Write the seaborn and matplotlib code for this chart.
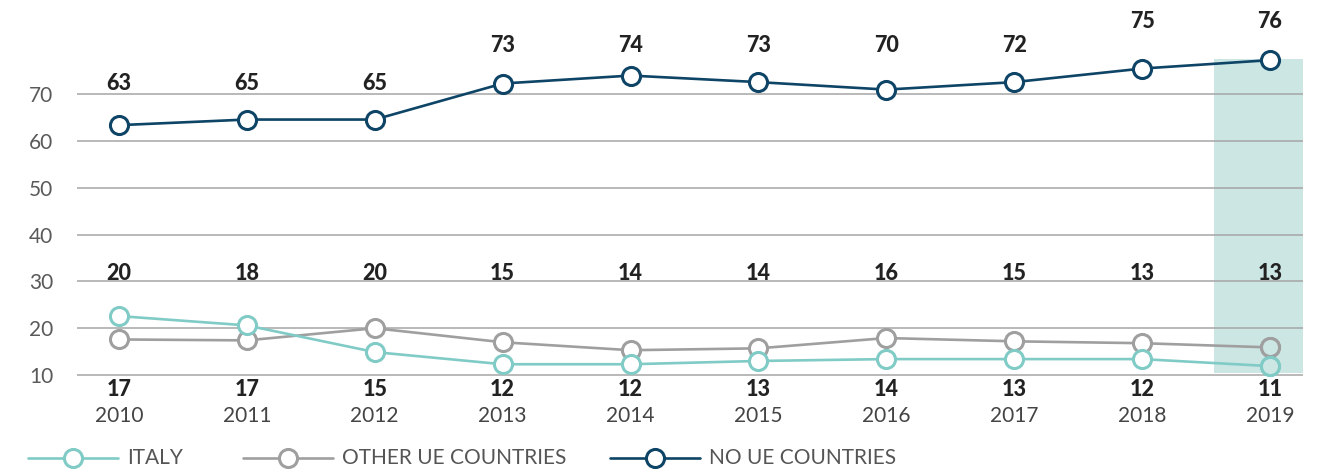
import numpy as np
import pandas as pd
import matplotlib.pyplot as plt
import seaborn as sns
from matplotlib.lines import Line2D
from matplotlib.patches import Rectangle

years = ["2010", "2011", "2012", "2013", "2014", "2015", "2016", "2017", "2018", "2019"]

# plotted positions
italy = [22.6, 20.6, 14.9, 12.3, 12.3, 13.0, 13.4, 13.4, 13.4, 11.9]
other_ue = [17.6, 17.4, 20.0, 17.0, 15.3, 15.7, 17.9, 17.2, 16.8, 15.9]
no_ue = [63.4, 64.6, 64.6, 72.3, 74.0, 72.6, 71.0, 72.6, 75.5, 77.3]

# printed value labels
italy_labels = [17, 17, 15, 12, 12, 13, 14, 13, 12, 11]
other_ue_labels = [20, 18, 20, 15, 14, 14, 16, 15, 13, 13]
no_ue_labels = [63, 65, 65, 73, 74, 73, 70, 72, 75, 76]

series_names = ["ITALY", "OTHER UE COUNTRIES", "NO UE COUNTRIES"]
colors = {"ITALY": "#80cbc6", "OTHER UE COUNTRIES": "#a09fa0", "NO UE COUNTRIES": "#0e4466"}
highlight = "#cce6e4"

sns.set_style("white")
plt.rcParams["font.family"] = ["Lato", "DejaVu Sans"]

pos = np.arange(len(years))
df = pd.DataFrame({
    "pos": np.tile(pos, 3),
    "value": other_ue + italy + no_ue,
    "series": ["OTHER UE COUNTRIES"] * len(years) + ["ITALY"] * len(years) + ["NO UE COUNTRIES"] * len(years),
})

fig = plt.figure(figsize=(13.36, 4.73), dpi=100)
ax = fig.add_axes([77 / 1336, 1 - 398.4 / 473, (1303 - 77) / 1336, (398.4 - 24.1) / 473])

x0, x1 = -0.328, 9.258
ax.set_xlim(x0, x1)
ax.set_ylim(5, 85)

# highlight of last year
ax.add_patch(Rectangle((8.56, 10.5), x1 - 8.56, 67.0, facecolor=highlight, edgecolor="none", zorder=0))

for v in range(10, 80, 10):
    ax.axhline(v, color="#a5a5a5", lw=1.1, zorder=1)

mk = dict(marker="o", markersize=13, markeredgewidth=2.2)
for name, z in [("OTHER UE COUNTRIES", 3), ("ITALY", 4), ("NO UE COUNTRIES", 5)]:
    sub = df[df["series"] == name]
    sns.lineplot(data=sub, x="pos", y="value", ax=ax,
                 color=colors[name], lw=1.9, markerfacecolor="white", markeredgecolor=colors[name],
                 zorder=z, clip_on=False, legend=False, **mk)
    if name != "NO UE COUNTRIES":
        # last-year markers sit on the highlight band
        last = sub.iloc[-1]
        ax.plot([last["pos"]], [last["value"]], linestyle="none", markerfacecolor=highlight,
                markeredgecolor=colors[name], zorder=z + 0.5, clip_on=False, **mk)

ax.set_xticks([])
ax.set_yticks(range(10, 80, 10))
ax.tick_params(axis="y", length=0, pad=17, labelsize=15, labelcolor="#5a5a5a")
ax.set_xlabel("")
ax.set_ylabel("")
sns.despine(ax=ax, left=True, bottom=True)

bold = dict(fontsize=15.5, fontweight="black", color="#222222", ha="center", va="center", clip_on=False)
for i in pos:
    v = no_ue_labels[i]
    ly = 72.4 if v <= 65 else (80.5 if v < 75 else 85.5)
    ax.text(i, ly, str(v), **bold)
    ax.text(i, 31.8, str(other_ue_labels[i]), **bold)
    ax.text(i, 7.0, str(italy_labels[i]), **bold)
    ax.text(i, 1.2, years[i], fontsize=15, color="#444444", ha="center", va="center", clip_on=False)

# legend drawn along the bottom
leg_x = [28, 243, 610]
ly = 1 - 458 / 473
for name, lx in zip(series_names, leg_x):
    fig.add_artist(Line2D([lx / 1336, (lx + 90) / 1336], [ly, ly], color=colors[name], lw=1.9))
    fig.add_artist(Line2D([(lx + 45) / 1336], [ly], color=colors[name], marker="o", markersize=13,
                          markerfacecolor="white", markeredgecolor=colors[name], markeredgewidth=2.2))
    fig.text((lx + 99) / 1336, ly, name, fontsize=15, color="#555555", ha="left", va="center")

fig.savefig("out.png", dpi=100)
